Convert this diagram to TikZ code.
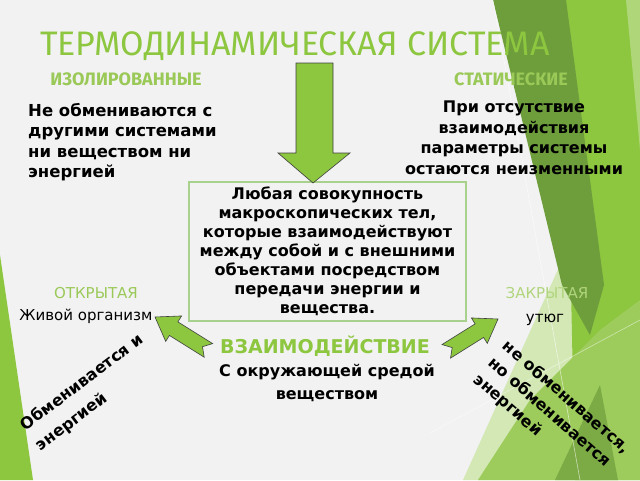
\documentclass[tikz,border=0pt]{standalone}
\usepackage{fontspec}
\setmainfont{DejaVu Sans}
\newfontfamily\titlefont{Fira Sans}
\usetikzlibrary{positioning}
\definecolor{paper}{HTML}{F2F2F2}
\definecolor{facetgreen}{HTML}{8DC63F}
\definecolor{headgreen}{HTML}{9AC958}
\definecolor{paleleaf}{HTML}{D3E8B5}
\definecolor{midleaf}{HTML}{9DCC5C}
\definecolor{darkleaf}{HTML}{6E9D3C}
\definecolor{boxgreen}{HTML}{A9D18E}
\begin{document}
\begin{tikzpicture}[x=1pt,y=-1pt,
   headtext/.style={font=\titlefont\bfseries\fontsize{18}{20}\selectfont,text=headgreen,inner sep=0pt},
   bodytext/.style={font=\bfseries\fontsize{16}{20.5}\selectfont,inner sep=0pt},
   thintext/.style={font=\fontsize{15}{17}\selectfont,inner sep=0pt},
   blockarrow/.style={fill=facetgreen,draw=black!75,line width=0.6pt,line join=miter}]
   \fill[paper] (0,0) rectangle (640,480);
   \useasboundingbox (0,0) rectangle (640,480);
   \fill[paleleaf] (463,480) -- (560,265) -- (600,245) -- (600,480) -- cycle;
   \fill[facetgreen] (565,0) -- (640,0) -- (640,480) -- (575,480) -- cycle;
   \fill[darkleaf] (493,0) -- (566,0) -- (604,285) -- (590,335) -- (562,285) -- cycle;
   \fill[midleaf] (478,480) -- (530,400) -- (600,330) -- (640,300) -- (640,480) -- cycle;
   \fill[darkleaf!70!midleaf] (555,480) -- (600,385) -- (618,480) -- cycle;
   \fill[facetgreen!70!white] (626,0) -- (640,0) -- (640,150) -- cycle;
   \draw[white,opacity=0.6,line width=0.6pt] (493,0) -- (580,480);
   \draw[white,opacity=0.5,line width=0.6pt] (430,433) -- (640,320);
   \fill[facetgreen] (0,255) -- (33,480) -- (0,480) -- cycle;
   \node[font=\titlefont\fontsize{34}{38}\selectfont,text=facetgreen,anchor=base west,inner sep=0pt] (title) at (40,55) {ТЕРМОДИНАМИЧЕСКАЯ СИСТЕМА};
   \node[headtext] (izol) at (126,79) {ИЗОЛИРОВАННЫЕ};
   \node[headtext] (stat) at (511,79) {СТАТИЧЕСКИЕ};
   \node[bodytext,align=left,anchor=north west,font=\bfseries\fontsize{16.5}{20.5}\selectfont] (izoldef) at (28,103) {Не обмениваются с\\другими системами\\ни веществом ни\\энергией};
   \node[bodytext,align=center,anchor=north] (statdef) at (514,101) {При отсутствие\\взаимодействия\\параметры системы\\остаются неизменными};
   \node[bodytext,draw=boxgreen,line width=1.5pt,minimum width=277,minimum height=139,align=center,font=\bfseries\fontsize{16}{19}\selectfont] (system) at (327.5,251.5) {Любая совокупность\\макроскопических тел,\\которые взаимодействуют\\между собой и с внешними\\объектами посредством\\передачи энергии и\\вещества.};
   \draw[blockarrow] (296,63) -- (333,63) -- (333,153) -- (350,153) -- (313,183) -- (278,153) -- (296,153) -- cycle;
   \node[thintext,text=headgreen] (open) at (96,293) {ОТКРЫТАЯ};
   \node[thintext] (organism) at (86,316) {Живой организм};
   \node[thintext,text=paleleaf!40!headgreen] (closed) at (547,293) {ЗАКРЫТАЯ};
   \node[thintext] (iron) at (545,320) {утюг};
   \begin{scope}[shift={(155,317)},rotate=148]
      \draw[blockarrow] (0,0) -- (-22,-15) -- (-22,-8) -- (-63,-8) -- (-56,0) -- (-63,8) -- (-22,8) -- (-22,15) -- cycle;
   \end{scope}
   \begin{scope}[shift={(498,319)},rotate=32]
      \draw[blockarrow] (0,0) -- (-22,-15) -- (-22,-8) -- (-61,-8) -- (-54,0) -- (-61,8) -- (-22,8) -- (-22,15) -- cycle;
   \end{scope}
   \node[bodytext,text=facetgreen,font=\bfseries\fontsize{19}{22}\selectfont] (interaction) at (325,346) {ВЗАИМОДЕЙСТВИЕ};
   \node[bodytext,align=center,anchor=north,font=\bfseries\fontsize{16}{23}\selectfont] (medium) at (327,364) {С окружающей средой\\веществом};
   \node[bodytext,align=left,anchor=north west,rotate=37,font=\bfseries\fontsize{16}{25}\selectfont] (openrule) at (18,421) {Обменивается и\\энергией};
   \node[bodytext,align=left,anchor=north west,rotate=-41,font=\bfseries\fontsize{16}{22}\selectfont] (closedrule) at (510,338) {не обменивается,\\но обменивается\\энергией};
\end{tikzpicture}
\end{document}
